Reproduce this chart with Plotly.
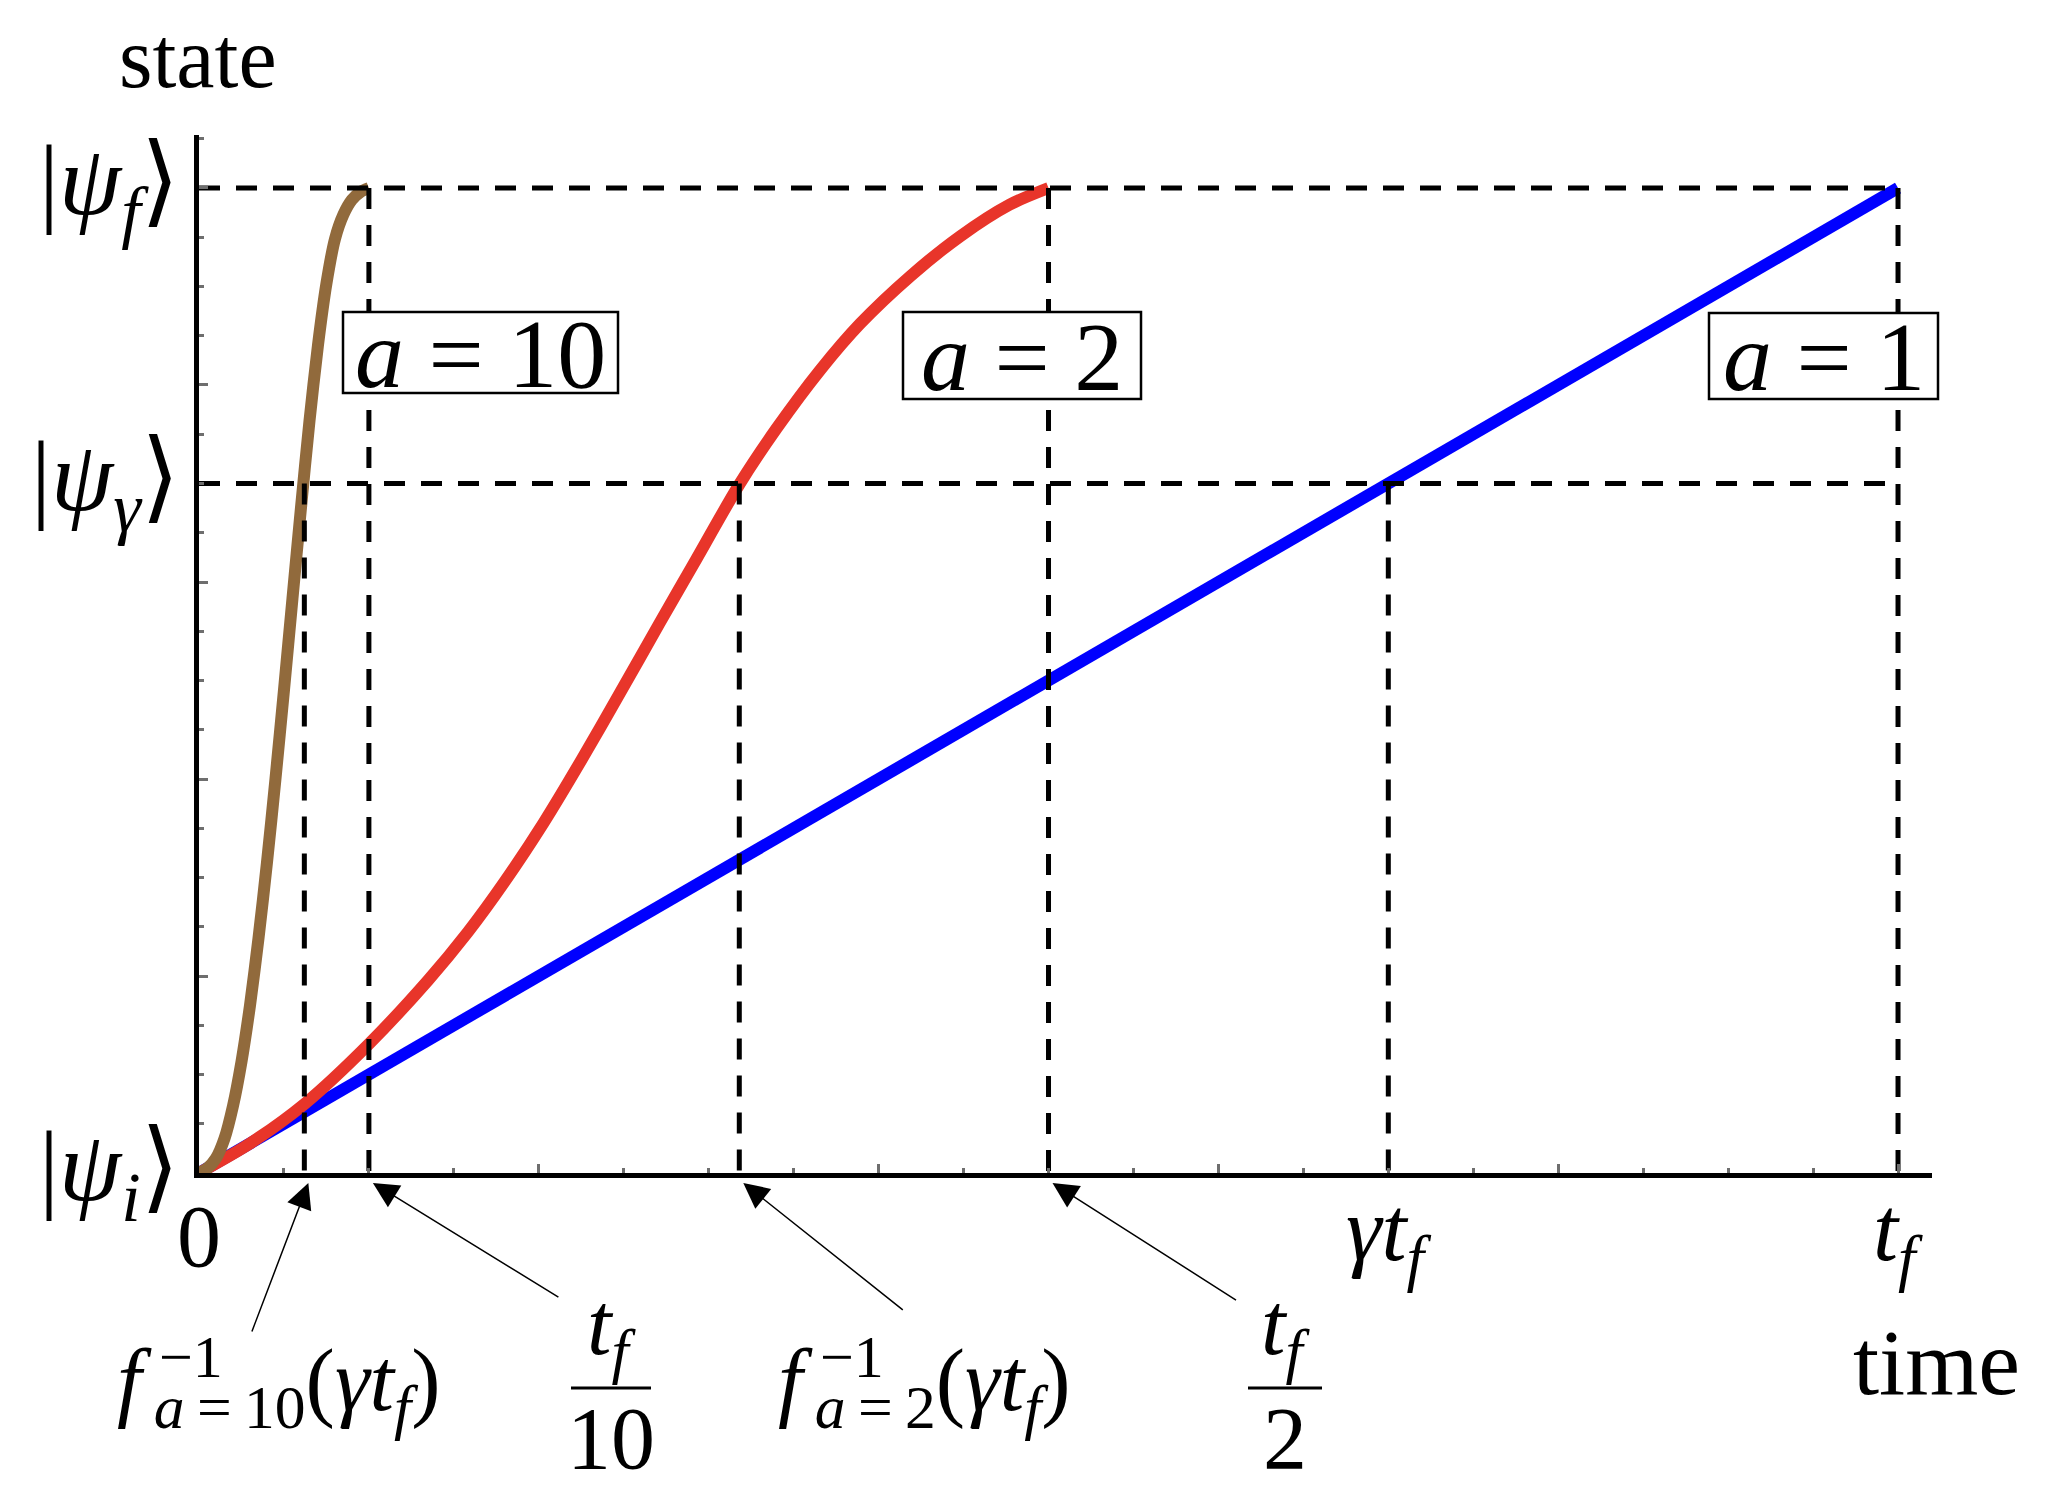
import plotly.graph_objects as go

# state goes from |psi_i> (0) to |psi_f> (1), time in units of t_f
gamma = 0.7
a_values = [10, 2, 1]
t_final = [0.1, 0.5, 1.0]          # t_f / a
t_gamma = [0.062, 0.318, 0.7]      # f_a^-1(gamma t_f)

# curves
t_a1 = [0.0, 1.0]
s_a1 = [0.0, 1.0]

t_a2 = [0.0, 0.03, 0.062, 0.1, 0.135, 0.158, 0.18, 0.203, 0.225, 0.248, 0.271,
        0.291, 0.318, 0.34, 0.366, 0.389, 0.419, 0.448, 0.477, 0.5]
s_a2 = [0.0, 0.03, 0.07, 0.131, 0.196, 0.244, 0.296, 0.356, 0.419, 0.488, 0.558,
        0.618, 0.699, 0.756, 0.816, 0.862, 0.911, 0.951, 0.983, 1.0]

t_a10 = [0.0, 0.005, 0.01, 0.015, 0.02, 0.025, 0.03, 0.035, 0.04, 0.045, 0.05,
         0.055, 0.06, 0.065, 0.07, 0.075, 0.08, 0.085, 0.09, 0.095, 0.1]
s_a10 = [0.0, 0.005, 0.015, 0.035, 0.068, 0.113, 0.17, 0.238, 0.315, 0.4, 0.49,
         0.583, 0.675, 0.763, 0.84, 0.903, 0.948, 0.973, 0.988, 0.996, 1.0]

BLUE = "#0000FF"
RED = "#E8352A"
BROWN = "#916A3C"
SERIF = "Liberation Serif, DejaVu Serif, serif"
TS = "\u2009"   # thin space

# page geometry (the body has an 8px margin)
PAGE = 8
L, R, T, B = 199, 1932, 135, 1173
XMAX = 1.02
YMAX = 1.0538


def px(X):
    return (X - L) / (R - L)


def py(Y):
    return (B - Y) / (B - T)


fig = go.Figure()

for t, s, col in [(t_a1, s_a1, BLUE), (t_a2, s_a2, RED), (t_a10, s_a10, BROWN)]:
    fig.add_trace(go.Scatter(x=t, y=s, mode="lines",
                             line=dict(color=col, width=12, shape="spline", smoothing=0.8),
                             hoverinfo="skip", showlegend=False))

# dashed guide lines
dx, dy = [], []
for lev in [1.0, gamma]:
    dx += [0, 1.0, None]
    dy += [lev, lev, None]
for t in t_final:
    dx += [t, t, None]
    dy += [1.0, 0, None]
for t in t_gamma:
    dx += [t, t, None]
    dy += [gamma, 0, None]
fig.add_trace(go.Scatter(x=dx, y=dy, mode="lines", connectgaps=False,
                         line=dict(color="black", width=5, dash="21px,16px"),
                         hoverinfo="skip", showlegend=False))

ann = []
shapes = []


def text(s, x, y, size, xref="paper", yref="paper", xanchor="center", yanchor="middle"):
    ann.append(dict(text=s, x=x, y=y, xref=xref, yref=yref, showarrow=False,
                    xanchor=xanchor, yanchor=yanchor, borderpad=0,
                    font=dict(family=SERIF, size=size, color="black")))


# framed labels a = ...
boxes = [(343, 618, 312, 393), (903, 1141, 312, 399), (1709, 1938, 313, 399)]
for a, (x0, x1, y0, y1) in zip(a_values, boxes):
    shapes.append(dict(type="rect", xref="paper", yref="paper", layer="above",
                       x0=px(x0), x1=px(x1), y0=py(y1), y1=py(y0),
                       fillcolor="white", line=dict(color="black", width=2.5)))
    text("<i>a</i> = %d" % a, px((x0 + x1) / 2), py((y0 + y1) / 2 + 1), 98)

# axis labels
text("state", px(198), py(58), 86)
text("time", px(1936), py(1362), 94)

# y tick labels
for lab, lev in [("|<i>ψ</i><sub><i>f</i></sub>⟩", 1.0),
                 ("|<i>ψ</i><sub><i>γ</i></sub>⟩", gamma),
                 ("|<i>ψ</i><sub><i>i</i></sub>⟩", 0.0)]:
    text(lab, px(181), lev, 100, yref="y", xanchor="right")

# x tick labels
text("0", 0, py(1236), 88, xref="x")
text("<i>γt</i><sub><i>f</i></sub>", gamma, py(1236), 90, xref="x")
text("<i>t</i><sub><i>f</i></sub>", 1.0, py(1236), 90, xref="x")

# lower labels with arrows
for a, left in [(10, 116), (2, 777)]:
    lab = ("<i>f</i><sub>" + TS + "<i>a</i>" + TS + "=" + TS + "%d</sub>" % a
           + "(<i>γt</i><sub><i>f</i></sub>)")
    text(lab, px(left), py(1386), 88, xanchor="left")
    text("−1", px(left + 42), py(1357), 60, xanchor="left")

for den, cx, half in [(10, 611, 40), (2, 1285, 37)]:
    text("<i>t</i><sub><i>f</i></sub>", px(cx), py(1330), 88)
    text(str(den), px(cx), py(1438), 88)
    shapes.append(dict(type="line", xref="paper", yref="paper", layer="above",
                       x0=px(cx - half), x1=px(cx + half), y0=py(1388), y1=py(1388),
                       line=dict(color="black", width=3)))

arrows = [(t_gamma[0], -57, 150), (t_final[0], 187, 115),
          (t_gamma[1], 161, 128), (t_final[1], 185, 118)]
for x, axp, ayp in arrows:
    ann.append(dict(text="", x=x, y=py(1183), xref="x", yref="paper", xshift=4,
                    showarrow=True, ax=axp, ay=ayp, arrowhead=2, arrowsize=3.4,
                    arrowwidth=1.5, arrowcolor="black", standoff=0))

tick_style = dict(ticks="inside", ticklen=9, tickwidth=3, tickcolor="#6e6e6e",
                  tick0=0, dtick=0.2, showticklabels=False, showgrid=False,
                  zeroline=False, showline=True, linecolor="black", linewidth=5,
                  minor=dict(ticks="inside", ticklen=5, tickwidth=3, tickcolor="#6e6e6e",
                             tick0=0, dtick=0.05, showgrid=False))

fig.update_layout(
    width=2050 - 2 * PAGE, height=1496 - 2 * PAGE,
    margin=dict(l=L - PAGE, r=2050 - PAGE - R, t=T - PAGE, b=1496 - PAGE - B, pad=0),
    paper_bgcolor="white", plot_bgcolor="white",
    xaxis=dict(range=[0, XMAX], **tick_style),
    yaxis=dict(range=[0, YMAX], **tick_style),
    annotations=ann, shapes=shapes,
)

fig.write_html("out.html")
